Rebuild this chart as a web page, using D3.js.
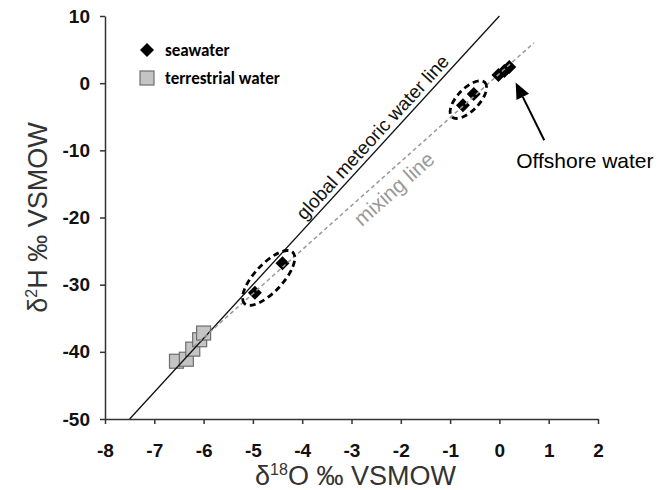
<!DOCTYPE html>
<html lang="en">
  <head>
    <meta charset="utf-8" />
    <title>Isotope plot</title>
    <script src="https://cdn.jsdelivr.net/npm/d3@7"></script>
    <style>
      body {
        margin: 0;
        background: #fff;
      }
      .axis path,
      .axis line {
        stroke: #333;
        stroke-width: 1.5;
      }
      .axis text {
        font-family: "Liberation Sans", Arial, sans-serif;
        font-weight: bold;
        font-size: 19px;
        fill: #111;
      }
      .title {
        font-family: "Liberation Sans", Arial, sans-serif;
        font-size: 27px;
        fill: #333;
      }
      .legend text {
        font-family: Carlito, Lato, "Liberation Sans", sans-serif;
        font-weight: bold;
        font-size: 17px;
      }
    </style>
  </head>

  <body>
    <svg id="chart"></svg>

    <script>
      // ticks
      const xTicks = [-8, -7, -6, -5, -4, -3, -2, -1, 0, 1, 2];
      const yTicks = [10, 0, -10, -20, -30, -40, -50];

      // seawater samples [d18O, d2H]
      const seawater = [
        [-4.4, -26.8],
        [-4.96, -31.2],
        [-0.74, -3.3],
        [-0.52, -1.6],
        [-0.02, 1.2],
        [0.1, 1.8],
        [0.2, 2.4]
      ];

      // terrestrial water samples [d18O, d2H]
      const terrestrial = [
        [-6.55, -41.4],
        [-6.35, -41.1],
        [-6.22, -39.6],
        [-6.08, -38.2],
        [-6.0, -37.2]
      ];

      // groups of seawater points that are circled (indexes into seawater)
      const circled = [
        [0, 1],
        [2, 3]
      ];

      // global meteoric water line d2H = 8 d18O + 10, drawn between these d18O values
      const gmwlRange = [-7.5, 0];
      // mixing line end points
      const mixingLine = [
        [-6.2, -39.2],
        [0.7, 6.0]
      ];

      // arrow: tail -> head, and its label
      const offshoreArrow = [
        [0.91, -8.5],
        [0.33, 0.1]
      ];
      const offshoreLabel = { x: 0.34, y: -12.7, text: "Offshore water" };

      const margin = { top: 16, right: 72, bottom: 71, left: 105 };
      const width = 670 - margin.left - margin.right;
      const height = 490 - margin.top - margin.bottom;

      const svg = d3
        .select("#chart")
        .attr("width", 670)
        .attr("height", 490);

      const g = svg.append("g").attr("transform", `translate(${margin.left},${margin.top})`);

      const xscale = d3.scaleLinear().domain([-8, 2]).range([0, width]);
      const yscale = d3.scaleLinear().domain([-50, 10]).range([height, 0]);

      // axes
      const g_xaxis = g
        .append("g")
        .attr("class", "x axis")
        .attr("transform", `translate(0,${height})`)
        .call(d3.axisBottom(xscale).tickValues(xTicks).tickSize(5).tickSizeOuter(0).tickFormat(d3.format("d")));
      g_xaxis.selectAll("text").attr("y", 31).attr("dy", "0.35em");

      g.append("g")
        .attr("class", "y axis")
        .call(d3.axisLeft(yscale).tickValues(yTicks).tickSize(5).tickSizeOuter(0).tickPadding(10).tickFormat(d3.format("d")));

      g.selectAll(".axis text").text(d => (d < 0 ? "-" + Math.abs(d) : d));

      // axis titles
      const xt = svg
        .append("text")
        .attr("class", "title")
        .attr("x", margin.left + width / 2 + 4)
        .attr("y", 485)
        .attr("text-anchor", "middle");
      xt.append("tspan").text("δ");
      xt.append("tspan").attr("font-size", "16px").attr("dy", -10).text("18");
      xt.append("tspan").attr("dy", 10).text("O ‰ VSMOW");

      const yt = svg
        .append("text")
        .attr("class", "title")
        .attr("transform", `translate(47,${margin.top + height / 2}) rotate(-90)`)
        .attr("text-anchor", "middle");
      yt.append("tspan").text("δ");
      yt.append("tspan").attr("font-size", "16px").attr("dy", -10).text("2");
      yt.append("tspan").attr("dy", 10).text("H ‰ VSMOW");

      const diamond = "M0,-7L7,0L0,7L-7,0Z";

      // terrestrial squares
      g.selectAll("rect.terr")
        .data(terrestrial)
        .join("rect")
        .attr("class", "terr")
        .attr("x", d => xscale(d[0]) - 7)
        .attr("y", d => yscale(d[1]) - 7)
        .attr("width", 14)
        .attr("height", 14)
        .attr("fill", "#c4c4c4")
        .attr("stroke", "#6e6e6e")
        .attr("stroke-width", 1.2);

      // seawater diamonds
      g.selectAll("path.sea")
        .data(seawater)
        .join("path")
        .attr("class", "sea")
        .attr("d", diamond)
        .attr("transform", d => `translate(${xscale(d[0])},${yscale(d[1])})`)
        .attr("fill", "#000");

      // global meteoric water line
      const line = d3
        .line()
        .x(d => xscale(d[0]))
        .y(d => yscale(d[1]));
      g.append("path")
        .attr("d", line(gmwlRange.map(x => [x, 8 * x + 10])))
        .attr("stroke", "#111")
        .attr("stroke-width", 1.3)
        .attr("fill", "none");

      // mixing line
      g.append("path")
        .attr("d", line(mixingLine))
        .attr("stroke", "#999")
        .attr("stroke-width", 1.5)
        .attr("stroke-dasharray", "4,3")
        .attr("fill", "none");

      // line labels
      const gAngle = (Math.atan2(yscale(0) - yscale(8), xscale(1) - xscale(0)) * 180) / Math.PI;
      const gx = xscale(-2.4);
      const gy = yscale(8 * -2.4 + 10);
      g.append("text")
        .attr("transform", `translate(${gx},${gy}) rotate(${-gAngle}) translate(0,-5)`)
        .attr("text-anchor", "middle")
        .attr("font-family", "Liberation Sans, Arial, sans-serif")
        .attr("font-size", "19px")
        .attr("fill", "#111")
        .text("global meteoric water line");

      const [m0, m1] = mixingLine;
      const mAngle = (Math.atan2(yscale(m0[1]) - yscale(m1[1]), xscale(m1[0]) - xscale(m0[0])) * 180) / Math.PI;
      const mt = -2.35;
      const mx = xscale(mt);
      const my = yscale(m0[1] + ((mt - m0[0]) * (m1[1] - m0[1])) / (m1[0] - m0[0]));
      g.append("text")
        .attr("transform", `translate(${mx},${my}) rotate(${-mAngle}) translate(0,23)`)
        .attr("text-anchor", "middle")
        .attr("font-family", "Liberation Sans, Arial, sans-serif")
        .attr("font-size", "21px")
        .attr("fill", "#9a9a9a")
        .text("mixing line");

      // dashed ellipses around circled groups
      circled.forEach((idx, i) => {
        const pts = idx.map(k => [xscale(seawater[k][0]), yscale(seawater[k][1])]);
        const cx = d3.mean(pts, p => p[0]);
        const cy = d3.mean(pts, p => p[1]);
        const dx = pts[1][0] - pts[0][0];
        const dy = pts[1][1] - pts[0][1];
        const half = Math.sqrt(dx * dx + dy * dy) / 2;
        const ang = (Math.atan2(dy, dx) * 180) / Math.PI;
        g.append("ellipse")
          .attr("transform", `translate(${cx},${cy}) rotate(${ang})`)
          .attr("rx", half + (i === 0 ? 15 : 16))
          .attr("ry", i === 0 ? 14 : 11)
          .attr("fill", "none")
          .attr("stroke", "#000")
          .attr("stroke-width", 2.8)
          .attr("stroke-dasharray", "6,4");
      });

      // offshore arrow
      const [tail, head] = offshoreArrow.map(d => [xscale(d[0]), yscale(d[1])]);
      const aAng = Math.atan2(head[1] - tail[1], head[0] - tail[0]);
      const hl = 16;
      const hw = 7;
      const bx = head[0] - hl * Math.cos(aAng);
      const by = head[1] - hl * Math.sin(aAng);
      g.append("line")
        .attr("x1", tail[0])
        .attr("y1", tail[1])
        .attr("x2", bx)
        .attr("y2", by)
        .attr("stroke", "#000")
        .attr("stroke-width", 2);
      g.append("path")
        .attr(
          "d",
          `M${head[0]},${head[1]}L${bx + hw * Math.sin(aAng)},${by - hw * Math.cos(aAng)}L${bx - hw * Math.sin(aAng)},${
            by + hw * Math.cos(aAng)
          }Z`
        )
        .attr("fill", "#000");

      g.append("text")
        .attr("x", xscale(offshoreLabel.x))
        .attr("y", yscale(offshoreLabel.y))
        .attr("font-family", "Liberation Sans, Arial, sans-serif")
        .attr("font-size", "21px")
        .attr("fill", "#000")
        .text(offshoreLabel.text);

      // legend
      const legend = svg.append("g").attr("class", "legend");
      legend.append("path").attr("d", diamond).attr("transform", "translate(147,50)").attr("fill", "#000");
      legend
        .append("rect")
        .attr("x", 140)
        .attr("y", 71)
        .attr("width", 14)
        .attr("height", 14)
        .attr("fill", "#c4c4c4")
        .attr("stroke", "#6e6e6e")
        .attr("stroke-width", 1.2);
      legend.append("text").attr("x", 165).attr("y", 56).text("seawater");
      legend.append("text").attr("x", 165).attr("y", 84).text("terrestrial water");
    </script>
  </body>
</html>
